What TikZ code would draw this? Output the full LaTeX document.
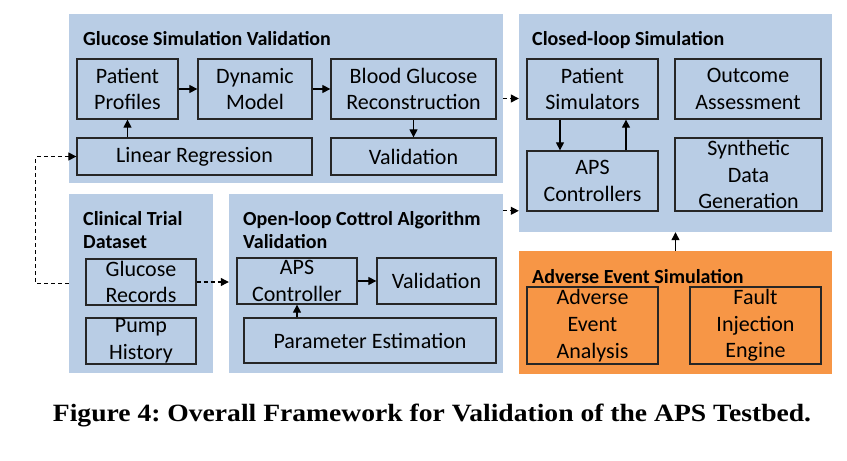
\documentclass[tikz,border=0pt]{standalone}
\usepackage{fontspec}
\usepackage{graphicx}
\setmainfont{Carlito}
\newfontfamily\capfont{Liberation Serif}
\usetikzlibrary{arrows.meta,calc}
\definecolor{panelblue}{RGB}{185,205,229}
\definecolor{panelorange}{RGB}{247,150,70}
\definecolor{edgecol}{RGB}{38,38,38}
\frenchspacing
\begin{document}
\begin{tikzpicture}[x=1pt,y=-1pt,
  panel/.style={fill=panelblue, draw=none, inner sep=0},
  opanel/.style={fill=panelorange, draw=none, inner sep=0},
  box/.style={draw=edgecol, line width=1.3pt, inner sep=0, align=center,
    font=\fontsize{22}{26.7}\selectfont},
  ptitle/.style={anchor=base west, inner sep=0, align=left,
    font=\fontsize{20}{22.5}\selectfont\bfseries},
  arr/.style={draw=black, line width=1.2pt, -{Triangle[length=8pt,width=8pt]}},
  darr/.style={arr, dash pattern=on 4pt off 3pt}]
\useasboundingbox (0,0) rectangle (847,461);
% panels
\node[panel, minimum width=434pt, minimum height=169pt] (gsv) at (286,98.5) {};
\node[panel, minimum width=313pt, minimum height=218pt] (cl) at (675.5,123) {};
\node[panel, minimum width=144pt, minimum height=179pt] (ct) at (141,283.5) {};
\node[panel, minimum width=274pt, minimum height=179pt] (ol) at (366,283.5) {};
\node[opanel, minimum width=313pt, minimum height=123pt] (ae) at (675.5,312.5) {};
% titles
\node[ptitle] (t1) at (83,45) {Glucose Simulation Validation};
\node[ptitle] (t2) at (532,45) {Closed-loop Simulation};
\node[ptitle] (t3) at (83,248) {Clinical Trial\\Dataset};
\node[ptitle] (t4) at (243,248) {Open-loop Cottrol Algorithm\\Validation};
\node[ptitle] (t5) at (532,283) {Adverse Event Simulation};
% boxes
\node[box, minimum width=101pt, minimum height=60pt] (pp) at (127.5,89) {Patient\\Profiles};
\node[box, minimum width=114pt, minimum height=60pt] (dm) at (255,89) {Dynamic\\Model};
\node[box, minimum width=165pt, minimum height=60pt] (bgr) at (413.5,89) {Blood Glucose\\Reconstruction};
\node[box, minimum width=235pt, minimum height=37pt] (lr) at (194.5,156.5) {Linear Regression};
\node[box, minimum width=165pt, minimum height=37pt] (va) at (413.5,156.5) {Validation};
\node[box, minimum width=110pt, minimum height=46pt] (gr) at (141,282) {Glucose\\Records};
\node[box, minimum width=110pt, minimum height=46pt] (ph) at (141,341) {Pump\\History};
\node[box, minimum width=120pt, minimum height=46pt] (apc) at (297,281) {APS\\Controller};
\node[box, minimum width=119pt, minimum height=46pt] (vb) at (436.5,281) {Validation};
\node[box, minimum width=252pt, minimum height=45pt] (pe) at (370,340.5) {Parameter Estimation};
\node[box, minimum width=131pt, minimum height=60pt] (ps) at (592.5,89) {Patient\\Simulators};
\node[box, minimum width=146pt, minimum height=60pt] (oa) at (748,89) {Outcome\\Assessment};
\node[box, minimum width=131pt, minimum height=60pt] (apcs) at (592.5,181) {APS\\Controllers};
\node[box, minimum width=147pt, minimum height=73pt] (sdg) at (748.5,174.5) {Synthetic\\Data\\Generation};
\node[box, minimum width=131pt, minimum height=77pt] (aea) at (592.5,325.5) {Adverse\\Event\\Analysis};
\node[box, minimum width=131pt, minimum height=77pt] (fie) at (755.5,325.5) {Fault\\Injection\\Engine};
% caption
\node[anchor=base, inner sep=0] (cap) at (432,421)
  {\resizebox{758pt}{17.5pt}{\capfont\bfseries Figure 4: Overall Framework for Validation of the APS Testbed.}};
% helper coordinates
\coordinate (psd) at ([xshift=-32.5pt]ps.south);
\coordinate (psu) at ([xshift=33.5pt]ps.south);
\coordinate (olout) at ([yshift=-17pt]ol.north east);
% connectors
\draw[arr] (pp.east) -- (dm.west);
\draw[arr] (dm.east) -- (bgr.west);
\draw[arr] (lr.north -| pp.south) -- (pp.south);
\draw[arr] (bgr.south) -- (va.north);
\draw[arr] (apc.east) -- (vb.west);
\draw[arr] (pe.north -| apc.south) -- (apc.south);
\draw[arr] (psd) -- (psd |- apcs.north);
\draw[arr] (psu |- apcs.north) -- (psu);
\draw[arr] (ae.north) -- (cl.south);
\draw[darr] (gr.east) -- (gr.east -| ol.west);
\draw[darr] (gsv.east) -- (gsv.east -| cl.west);
\draw[darr] (olout) -- (olout -| cl.west);
\draw[darr] (ct.west) -- ++(-33,0) |- (lr.west);
\end{tikzpicture}
\end{document}
